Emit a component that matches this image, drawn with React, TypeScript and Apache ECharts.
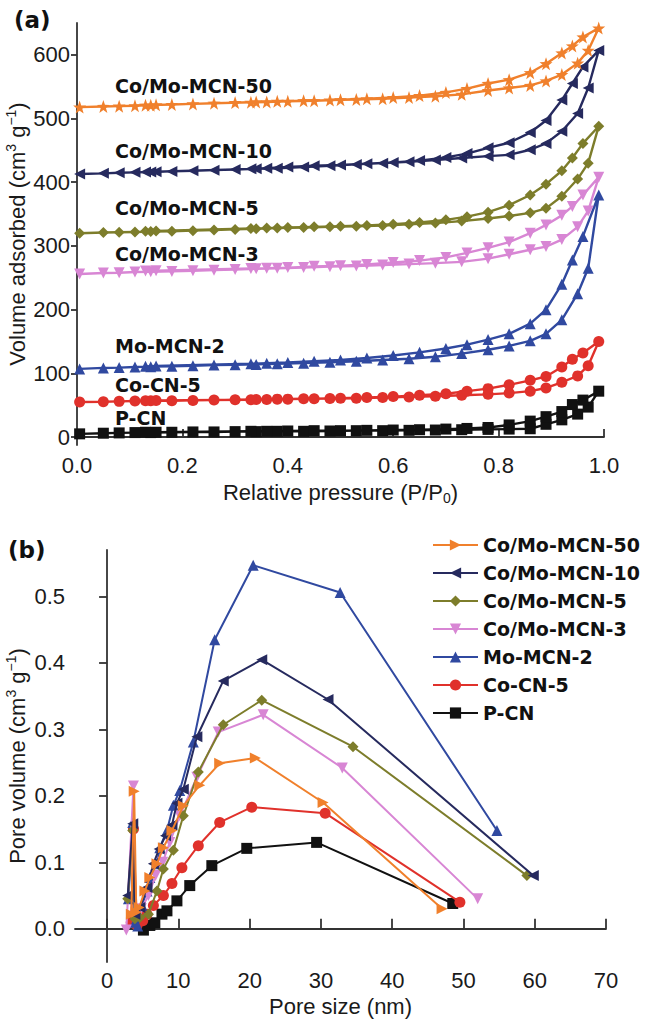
import React, { useEffect, useRef } from "react";
import * as echarts from "echarts";

// ---------- (a) N2 isotherms ----------
const adsP = [0.005, 0.05, 0.08, 0.11, 0.14, 0.18, 0.22, 0.26, 0.30, 0.34, 0.38, 0.43, 0.48, 0.53, 0.58, 0.63, 0.68, 0.73, 0.78, 0.82, 0.86, 0.89, 0.92, 0.95, 0.97, 0.99];
const desP = [0.96, 0.94, 0.92, 0.89, 0.86, 0.82, 0.78, 0.74, 0.70, 0.65, 0.60, 0.55, 0.50, 0.45, 0.40, 0.36, 0.33, 0.15, 0.13];

const ads50 = [518, 519, 519.5, 520, 521, 522, 523, 524, 525, 526, 527, 528, 529, 530, 531, 533, 535, 538, 544, 548, 552, 559, 569, 587, 607, 642];
const des50 = [628, 614, 603, 586, 572, 561, 555, 547, 541, 536, 533, 531, 529.5, 528, 527, 526, 525.5, 521.5, 521];

const ads10 = [413, 414, 415, 415.5, 416, 417, 418, 419, 420, 421, 422, 424, 426, 428, 430, 432, 435, 438, 441, 443, 451, 461, 480, 508, 548, 607];
const des10 = [581, 555, 529, 497, 478, 462, 454, 445, 439, 434, 431, 429, 427, 426, 424, 422, 421, 416.5, 416];

const ads5 = [320, 321, 321.5, 322, 322.5, 323, 324, 325, 326, 327, 328, 329, 330, 331, 332, 334, 336, 339, 343, 347, 352, 359, 378, 405, 430, 488];
const des5 = [461, 438, 418, 397, 380, 364, 353, 346, 341, 337, 334, 332, 331, 330, 329, 328, 327.5, 323.5, 323];

const ads3 = [256, 257.5, 258, 259, 259.5, 260, 261, 262, 263, 264, 265, 266, 267.5, 268.5, 270, 271.5, 273, 275, 280, 287, 294, 299, 310, 330, 355, 408];
const des3 = [380, 362, 348, 333, 320, 306, 297, 289, 282, 277, 274, 271, 269, 268, 266, 265, 264.5, 261, 260.5];

const adsMo2 = [107, 108.5, 109, 110, 110.5, 111, 112, 113, 113.5, 114, 115, 116, 117.5, 119, 121, 123, 126, 131, 137, 143, 151, 162, 184, 225, 265, 380];
const desMo2 = [315, 278, 240, 200, 178, 162, 153, 145, 139, 133, 128, 124, 121, 119, 117, 116, 115, 111.5, 111];

const adsCo5 = [55, 55.5, 56, 56.5, 57, 57, 57.5, 58, 58.5, 59, 59.5, 60, 60.5, 61, 62, 63, 64, 65.5, 67, 69, 72, 77, 86, 96, 112, 150];
const desCo5 = [132, 122, 110, 95, 89, 82, 76, 72, 68, 65.5, 63.5, 62, 61, 60, 59.5, 59, 58.5, 57.5, 57];

const adsPCN = [5, 6, 6.5, 7, 7, 7.5, 8, 8, 8.5, 8.5, 9, 9, 9.5, 10, 10, 10.5, 11, 11.5, 12, 12.5, 13, 20, 27, 36, 47, 72];
const desPCN = [58, 51, 40, 32, 25, 19, 15, 13.5, 12.5, 11.5, 11, 10.5, 10, 10, 9.5, 9, 9, 7.5, 7.5];

const isoTicksX = [0, 0.2, 0.4, 0.6, 0.8, 1.0];
const isoTicksY = [0, 100, 200, 300, 400, 500, 600];

// ---------- (b) pore size distribution ----------
const poreX50 = [3.4, 3.8, 4.1, 4.5, 5.3, 6.0, 7.0, 7.9, 9.1, 10.7, 13.0, 15.8, 20.8, 30.3, 47.0];
const poreV50 = [0.022, 0.207, 0.025, 0.032, 0.057, 0.077, 0.098, 0.122, 0.148, 0.185, 0.216, 0.249, 0.257, 0.19, 0.03];

const poreX10 = [2.9, 3.6, 3.9, 4.6, 5.6, 6.5, 7.3, 8.2, 9.1, 9.8, 10.7, 12.6, 16.3, 21.7, 31.0, 59.8];
const poreV10 = [0.05, 0.158, 0.022, 0.032, 0.062, 0.098, 0.12, 0.14, 0.156, 0.189, 0.21, 0.289, 0.373, 0.405, 0.345, 0.08];

const poreX5 = [2.9, 3.6, 3.9, 4.6, 5.8, 7.0, 7.9, 9.3, 10.7, 12.8, 16.3, 21.7, 34.5, 58.9];
const poreV5 = [0.045, 0.148, 0.015, 0.017, 0.022, 0.057, 0.09, 0.118, 0.17, 0.236, 0.307, 0.344, 0.274, 0.08];

const poreX3 = [2.7, 3.7, 4.0, 4.8, 5.8, 6.8, 7.8, 8.8, 10.2, 12.6, 15.6, 21.9, 33.0, 52.0];
const poreV3 = [-0.002, 0.215, 0.02, 0.03, 0.05, 0.08, 0.1, 0.13, 0.17, 0.228, 0.296, 0.322, 0.242, 0.045];

const poreXMo2 = [3.0, 3.6, 3.9, 4.3, 4.9, 5.6, 6.0, 7.0, 7.4, 8.4, 9.3, 10.2, 12.1, 15.1, 20.5, 32.7, 54.7];
const poreVMo2 = [0.045, 0.16, 0.01, 0.004, 0.035, 0.057, 0.077, 0.098, 0.122, 0.148, 0.186, 0.208, 0.281, 0.435, 0.547, 0.506, 0.148];

const poreXCo5 = [3.4, 3.7, 4.2, 5.0, 5.6, 6.5, 7.9, 9.1, 10.5, 12.8, 15.8, 20.3, 30.6, 49.5];
const poreVCo5 = [0.01, 0.15, 0.005, 0.012, 0.022, 0.035, 0.05, 0.068, 0.092, 0.125, 0.16, 0.183, 0.174, 0.04];

const poreXPCN = [5.1, 6.0, 6.7, 7.7, 8.4, 9.8, 11.6, 14.7, 19.6, 29.4, 48.5];
const poreVPCN = [-0.002, 0.005, 0.009, 0.022, 0.027, 0.042, 0.065, 0.095, 0.121, 0.13, 0.038];

const poreTicksX = [0, 10, 20, 30, 40, 50, 60, 70];
const poreTicksY = [0, 0.1, 0.2, 0.3, 0.4, 0.5];

const names = ["Co/Mo-MCN-50", "Co/Mo-MCN-10", "Co/Mo-MCN-5", "Co/Mo-MCN-3", "Mo-MCN-2", "Co-CN-5", "P-CN"];
const colors = ["#F0802C", "#262A5E", "#7D7D2B", "#D886D4", "#3049A0", "#E0312B", "#111111"];

const STAR = "path://M0,-10 L2.35,-3.24 L9.51,-3.09 L3.8,1.24 L5.88,8.09 L0,4 L-5.88,8.09 L-3.8,1.24 L-9.51,-3.09 L-2.35,-3.24 Z";

const zip = (xs: number[], ys: number[]) => xs.map((x, i) => [x, ys[i]]);
const loop = (a: number[], d: number[]) => zip(adsP, a).concat(zip(desP, d));

const SANS = "'Liberation Sans', Arial, sans-serif";
const BOLD = "'DejaVu Sans', sans-serif";

export default function App() {
  const ref = useRef<HTMLDivElement>(null);
  useEffect(() => {
    if (!ref.current) return;
    const chart = echarts.init(ref.current, null, { renderer: "svg" });

    const isoData = [
      loop(ads50, des50), loop(ads10, des10), loop(ads5, des5), loop(ads3, des3),
      loop(adsMo2, desMo2), loop(adsCo5, desCo5), loop(adsPCN, desPCN),
    ];
    const poreData = [
      zip(poreX50, poreV50), zip(poreX10, poreV10), zip(poreX5, poreV5), zip(poreX3, poreV3),
      zip(poreXMo2, poreVMo2), zip(poreXCo5, poreVCo5), zip(poreXPCN, poreVPCN),
    ];
    const isoSymbols = [STAR, "triangle", "diamond", "triangle", "triangle", "circle", "rect"];
    const poreSymbols = ["triangle", "triangle", "diamond", "triangle", "triangle", "circle", "rect"];
    const rot = [-90, 90, 0, 180, 0, 0, 0];
    const isoRot = [0, 90, 0, 180, 0, 0, 0];

    const axisLine = { lineStyle: { color: "#333", width: 1.8 } };
    const label = (fmt?: (v: number) => string) => ({
      fontSize: 22, color: "#1a1a1a", fontFamily: SANS, formatter: fmt,
    });
    const rich = {
      sup: { fontSize: 14, lineHeight: 14, verticalAlign: "top", fontFamily: SANS, color: "#1a1a1a" },
      sub: { fontSize: 14, lineHeight: 14, verticalAlign: "bottom", fontFamily: SANS, color: "#1a1a1a" },
    };
    const nameStyle = { fontSize: 22, lineHeight: 26, color: "#1a1a1a", fontFamily: SANS, rich };

    const order = [6, 5, 4, 3, 2, 1, 0];
    const series: any[] = [];
    order.forEach((i) => {
      series.push({
        type: "line", name: "a:" + names[i], xAxisIndex: 0, yAxisIndex: 0,
        data: isoData[i], symbol: isoSymbols[i], symbolRotate: isoRot[i],
        symbolSize: i === 0 ? 13 : 11,
        lineStyle: { color: colors[i], width: 2.4 }, itemStyle: { color: colors[i] },
        z: 2 + (6 - i),
      });
    });
    order.forEach((i) => {
      series.push({
        type: "line", name: names[i], xAxisIndex: 1, yAxisIndex: 1,
        data: poreData[i], symbol: poreSymbols[i], symbolRotate: rot[i],
        symbolSize: 11,
        lineStyle: { color: colors[i], width: 2 }, itemStyle: { color: colors[i] },
        z: 2 + (6 - i),
      });
    });

    const seriesLabels = [
      { t: names[0], y: 86 }, { t: names[1], y: 151 }, { t: names[2], y: 208 },
      { t: names[3], y: 254 }, { t: names[4], y: 346 }, { t: names[5], y: 385 }, { t: names[6], y: 418 },
    ];

    chart.setOption({
      animation: false,
      textStyle: { fontFamily: SANS },
      grid: [
        { left: 77, right: 42, top: 23, bottom: 574, outerBoundsMode: "none", containLabel: false },
        { left: 75, right: 40, top: 550, bottom: 57, outerBoundsMode: "none", containLabel: false },
      ],
      xAxis: [
        {
          type: "value", gridIndex: 0, min: 0, max: 1,
          name: "Relative pressure (P/P{sub|0})", nameLocation: "middle", nameGap: 34, nameTextStyle: nameStyle,
          nameMoveOverlap: false,
          axisLine, splitLine: { show: false },
          axisTick: { inside: true, length: 8, lineStyle: { color: "#333", width: 1.8 }, customValues: isoTicksX },
          axisLabel: { ...label((v: number) => v.toFixed(1)), margin: 9, customValues: isoTicksX },
        },
        {
          type: "value", gridIndex: 1, min: -4.5, max: 70,
          name: "Pore size (nm)", nameLocation: "middle", nameGap: 31, nameTextStyle: nameStyle,
          nameMoveOverlap: false,
          axisLine, splitLine: { show: false },
          axisTick: { inside: true, length: 10, lineStyle: { color: "#333", width: 1.8 }, customValues: poreTicksX },
          axisLabel: { ...label((v: number) => String(v)), margin: 7, customValues: poreTicksX },
        },
      ],
      yAxis: [
        {
          type: "value", gridIndex: 0, min: -12.5, max: 650,
          name: "Volume adsorbed (cm{sup|3} g{sup|−1})", nameLocation: "middle", nameGap: 47, nameTextStyle: nameStyle,
          nameMoveOverlap: false,
          axisLine, splitLine: { show: false },
          axisTick: { inside: false, length: 6, lineStyle: { color: "#333", width: 1.8 }, customValues: isoTicksY },
          axisLabel: { ...label((v: number) => String(v)), margin: 7, customValues: isoTicksY },
        },
        {
          type: "value", gridIndex: 1, min: -0.05, max: 0.57,
          name: "Pore volume (cm{sup|3} g{sup|−1})", nameLocation: "middle", nameGap: 45, nameTextStyle: nameStyle,
          nameMoveOverlap: false,
          axisLine, splitLine: { show: false },
          axisTick: { inside: false, length: 8, lineStyle: { color: "#333", width: 1.8 }, customValues: poreTicksY },
          axisLabel: { ...label((v: number) => v.toFixed(1)), margin: 10, customValues: poreTicksY },
        },
      ],
      legend: {
        data: names, orient: "vertical", left: 432, top: 535, padding: 0,
        itemWidth: 45, itemHeight: 14, itemGap: 8,
        textStyle: { fontSize: 19, fontWeight: "bold", fontFamily: BOLD, color: "#111", lineHeight: 20 },
      },
      graphic: [
        { type: "text", left: 14, top: 8, style: { text: "(a)", font: "bold 23px " + BOLD, fill: "#111" } },
        { type: "text", left: 8, top: 538, style: { text: "(b)", font: "bold 23px " + BOLD, fill: "#111" } },
        ...seriesLabels.map((s) => ({
          type: "text", x: 115, y: s.y,
          style: { text: s.t, font: "bold 19px " + BOLD, fill: "#111", verticalAlign: "middle" },
        })),
      ],
      series,
    });
    return () => chart.dispose();
  }, []);
  return <div ref={ref} style={{ position: "fixed", left: 0, top: 0, width: 646, height: 1019, background: "#fff" }} />;
}
